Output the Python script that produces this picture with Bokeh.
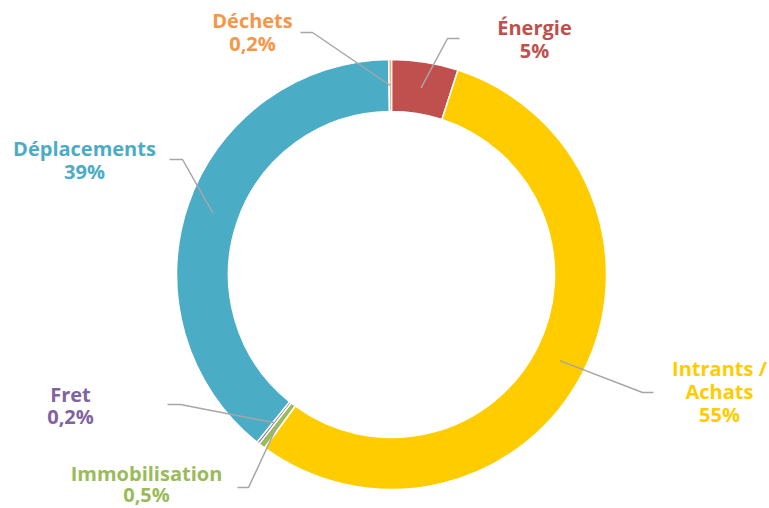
import math
from bokeh.plotting import figure
from bokeh.models import Range1d
from bokeh.core.properties import value
from bokeh.embed import file_html
from bokeh.resources import INLINE

# ---- data ----
categories = ["Énergie", "Intrants /\nAchats", "Immobilisation", "Fret", "Déplacements", "Déchets"]
shares = [5, 55, 0.5, 0.2, 39, 0.2]
share_labels = ["5%", "55%", "0,5%", "0,2%", "39%", "0,2%"]
colors = ["#C0504D", "#FFCC00", "#9BBB59", "#8064A2", "#4BACC6", "#F79646"]

# ---- layout (1 unit = 1 px; positions measured from the top-left) ----
W, H = 769, 508
cx, cy_top = 391, 274
r_in, r_out = 163, 215
r_lead = 189
TEXT_SHIFT = 7  # compensate renderer baseline offset
# label centre x, first baseline y, line height, elbow x, end x, leader y
label_pos = {
    "Énergie": (534, 34, 23, 447, 459, 38),
    "Intrants /\nAchats": (719, 375, 23, 642, 653, 392),
    "Immobilisation": (146, 480, 21, 248, 237, 487),
    "Fret": (70, 401, 22, 180, 167, 404),
    "Déplacements": (84, 155, 23, 182, 169, 159),
    "Déchets": (252, 27, 23, 312, 300, 32),
}

p = figure(width=W, height=H, output_backend="svg", toolbar_location=None,
           x_range=Range1d(0, W), y_range=Range1d(0, H), min_border=0)
p.axis.visible = False
p.grid.visible = False
p.outline_line_color = None

cy = H - cy_top
total = sum(shares)
start = math.pi / 2
starts, ends, mids = [], [], []
for s in shares:
    a = s / total * 2 * math.pi
    starts.append(start)
    ends.append(start - a)
    mids.append(start - a / 2)
    start -= a

p.annular_wedge(x=[cx] * len(shares), y=[cy] * len(shares), inner_radius=r_in, outer_radius=r_out,
                start_angle=ends, end_angle=starts, direction="anticlock",
                fill_color=colors, line_color="white", line_width=1.5)

for cat, lab, col, m in zip(categories, share_labels, colors, mids):
    lx, ly, lh, ex, endx, leady = label_pos[cat]
    px = cx + r_lead * math.cos(m)
    py = cy + r_lead * math.sin(m)
    p.line(x=[px, ex, endx], y=[py, H - leady, H - leady], line_color="#A6A6A6", line_width=1.5)
    lines = cat.split("\n") + [lab]
    for i, t in enumerate(lines):
        p.text(x=[lx], y=[H - ly - i * lh + TEXT_SHIFT], text=[t], text_color=col,
               text_font=value("Open Sans"), text_font_style="bold", text_font_size="20px",
               text_align="center", text_baseline="alphabetic")

open("out.html", "w").write(file_html(p, INLINE))
